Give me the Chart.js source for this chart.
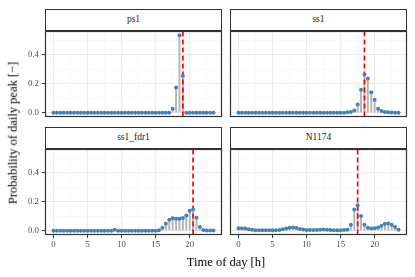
<!DOCTYPE html>
<html><head><meta charset="utf-8">
<script src="https://cdn.jsdelivr.net/npm/chart.js@4.4.0/dist/chart.umd.min.js"></script>
<style>
html,body{margin:0;padding:0;background:#fff;}
#wrap{position:relative;width:415px;height:277px;overflow:hidden;font-family:'Liberation Serif','DejaVu Serif',serif;background:#fff;}
#wrap canvas{position:absolute;left:0;top:0;}
.strip{position:absolute;box-sizing:border-box;border:1px solid #333;background:#fff;color:#1a1a1a;font-size:9.5px;display:flex;align-items:center;justify-content:center;line-height:1;}
.title{position:absolute;color:#000;font-size:12.5px;white-space:nowrap;line-height:1;}
</style></head>
<body><div id="wrap"></div>
<script>
// ---- data ----
const hours = [0,0.5,1,1.5,2,2.5,3,3.5,4,4.5,5,5.5,6,6.5,7,7.5,8,8.5,9,9.5,10,10.5,11,11.5,
               12,12.5,13,13.5,14,14.5,15,15.5,16,16.5,17,17.5,18,18.5,19,19.5,20,20.5,21,21.5,22,22.5,23,23.5];
const panelNames = ['ps1','ss1','ss1_fdr1','N1174'];
const ps1 = [0,0,0,0,0,0,0,0,0,0,0,0,
             0,0,0,0,0,0,0,0,0,0,0,0,
             0,0,0,0,0,0,0,0,0,0,0,0.027,0.174,0.535,0.256,0,0,0,0,0,0,0,0,0];
const ss1 = [0,0,0,0,0,0,0,0,0,0,0,0,
             0,0,0,0,0,0,0,0,0,0,0,0,
             0,0,0,0,0,0,0,0,0.002,0.005,0.015,0.056,0.158,0.264,0.237,0.142,0.09,0.027,0.011,0.004,0.002,0.001,0,0];
const ss1_fdr1 = [0,0,0,0,0,0,0,0,0,0,0,0,
                  0,0,0,0,0,0,0.007,0,0,0,0,0,
                  0,0,0,0,0,0,0,0.003,0.02,0.048,0.075,0.085,0.082,0.082,0.088,0.105,0.138,0.147,0.09,0.025,0.004,0.001,0.001,0.001];
const n1174 = [0.016,0.016,0.014,0.01,0.006,0.003,0.002,0.002,0.002,0.002,0.002,0.003,
               0.005,0.009,0.014,0.02,0.022,0.018,0.012,0.008,0.005,0.004,0.004,0.005,
               0.007,0.008,0.007,0.005,0.003,0.003,0.003,0.004,0.006,0.041,0.147,0.176,0.102,0.041,0.02,0.014,0.016,0.022,0.034,0.047,0.05,0.041,0.025,0.007];
const peakLines = [19, 18.5, 20.5, 17.5];
const xTickLabels = [0,5,10,15,20];
const xGridBreaks = [0,2.5,5,7.5,10,12.5,15,17.5,20,22.5];
const yTickLabels = [0,0.2,0.4];
const yGridBreaks = [0,0.1,0.2,0.3,0.4,0.5];
const seriesList = [ps1, ss1, ss1_fdr1, n1174];

// ---- layout ----
const W = 415, H = 277;
const rects = [
  {l:45.5,  r:221.5, t:31.5,  b:116.5, st:9,   showX:false, showY:true},
  {l:230.5, r:406.5, t:31.5,  b:116.5, st:9,   showX:false, showY:false},
  {l:45.5,  r:221.5, t:149.5, b:234.5, st:127, showX:true,  showY:true},
  {l:230.5, r:406.5, t:149.5, b:234.5, st:127, showX:true,  showY:false}
];
const wrap = document.getElementById('wrap');
const allVals = [].concat(ps1, ss1, ss1_fdr1, n1174);
const vmax = Math.max(...allVals);
const yMin = -vmax*0.05, yMax = vmax*1.05;
const xMin = hours[0] - (hours[hours.length-1]-hours[0])*0.05;
const xMax = hours[hours.length-1] + (hours[hours.length-1]-hours[0])*0.05;
const FONT = "'Liberation Serif', 'DejaVu Serif', serif";

const frame = {
  id:'frame',
  afterDraw(chart){
    const {left,top,right,bottom} = chart.chartArea;
    const c = chart.ctx;
    c.save(); c.strokeStyle='#333333'; c.lineWidth=1.2;
    c.strokeRect(left,top,right-left,bottom-top);
    c.restore();
  }
};

rects.forEach((rc, i) => {
  // strip
  const s = document.createElement('div');
  s.className = 'strip';
  s.style.left = (rc.l-0.5)+'px';
  s.style.width = (rc.r-rc.l+1)+'px';
  s.style.top = rc.st+'px';
  s.style.height = (rc.t-0.5-rc.st)+'px';
  s.textContent = panelNames[i];
  wrap.appendChild(s);

  const cv = document.createElement('canvas');
  cv.width = W; cv.height = H;
  cv.style.width = W+'px'; cv.style.height = H+'px';
  wrap.appendChild(cv);
  const vals = seriesList[i];
  const pts = hours.map((h,k)=>({x:h, y:vals[k]}));
  // axis boxes carry the label space so labels are not clipped
  const yAxisW = rc.showY ? rc.l : 0;
  const xAxisH = rc.showX ? (H - rc.b) : 0;
  new Chart(cv, {
    type:'scatter',
    data:{datasets:[
      {type:'bar', data:pts, backgroundColor:'#b5b5b5', borderWidth:0, barThickness:1.3, order:3},
      {type:'line', data:[{x:peakLines[i], y:yMin},{x:peakLines[i], y:yMax}], borderColor:'#ff0000',
       borderWidth:1.7, borderDash:[5,3], pointRadius:0, fill:false, order:2},
      {type:'scatter', data:pts, backgroundColor:'#4682b4', borderWidth:0, pointRadius:2, order:1}
    ]},
    options:{
      responsive:false, animation:false, devicePixelRatio:1,
      layout:{padding:{left:rc.l - yAxisW, top:rc.t, right:W-rc.r, bottom:H-rc.b - xAxisH}},
      plugins:{legend:{display:false}, tooltip:{enabled:false}},
      events:[],
      scales:{
        x:{type:'linear', min:xMin, max:xMax, bounds:'data', offset:false,
           afterBuildTicks: sc => { sc.ticks = xGridBreaks.map(v=>({value:v})); },
           afterFit: sc => { sc.height = xAxisH; },
           border:{display:false},
           grid:{offset:false,
             color: c => xTickLabels.includes(c.tick && c.tick.value) ? '#ebebeb' : '#f3f3f3',
             lineWidth: c => xTickLabels.includes(c.tick && c.tick.value) ? 1.1 : 0.6,
             drawTicks:true, tickLength:3.5, tickWidth:1,
             tickColor: c => (rc.showX && xTickLabels.includes(c.tick && c.tick.value)) ? '#333333' : 'rgba(0,0,0,0)'},
           ticks:{display:rc.showX, autoSkip:false, maxRotation:0, minRotation:0, padding:1.5, color:'#4d4d4d',
             font:{family:FONT, size:8.8},
             callback: v => xTickLabels.includes(v) ? String(v) : ''}
        },
        y:{type:'linear', min:yMin, max:yMax, bounds:'data',
           afterBuildTicks: sc => { sc.ticks = yGridBreaks.map(v=>({value:v})); },
           afterFit: sc => { sc.width = yAxisW; },
           border:{display:false},
           grid:{
             color: c => yTickLabels.includes(c.tick && c.tick.value) ? '#ebebeb' : '#f3f3f3',
             lineWidth: c => yTickLabels.includes(c.tick && c.tick.value) ? 1.1 : 0.6,
             drawTicks:true, tickLength:3.5, tickWidth:1,
             tickColor: c => (rc.showY && yTickLabels.includes(c.tick && c.tick.value)) ? '#333333' : 'rgba(0,0,0,0)'},
           ticks:{display:rc.showY, autoSkip:false, padding:3, color:'#4d4d4d',
             font:{family:FONT, size:8.8},
             callback: v => yTickLabels.includes(v) ? v.toFixed(1) : ''}
        }
      }
    },
    plugins:[frame]
  });
});

// axis titles
const xt = document.createElement('div');
xt.className='title'; xt.textContent='Time of day [h]';
xt.style.left='226px'; xt.style.top='255.5px'; xt.style.transform='translateX(-50%)';
wrap.appendChild(xt);
const yt = document.createElement('div');
yt.className='title'; yt.textContent='Probability of daily peak [−]';
yt.style.left='13px'; yt.style.top='133px'; yt.style.transform='translate(-50%,-50%) rotate(-90deg)';
wrap.appendChild(yt);
</script>
</body></html>
